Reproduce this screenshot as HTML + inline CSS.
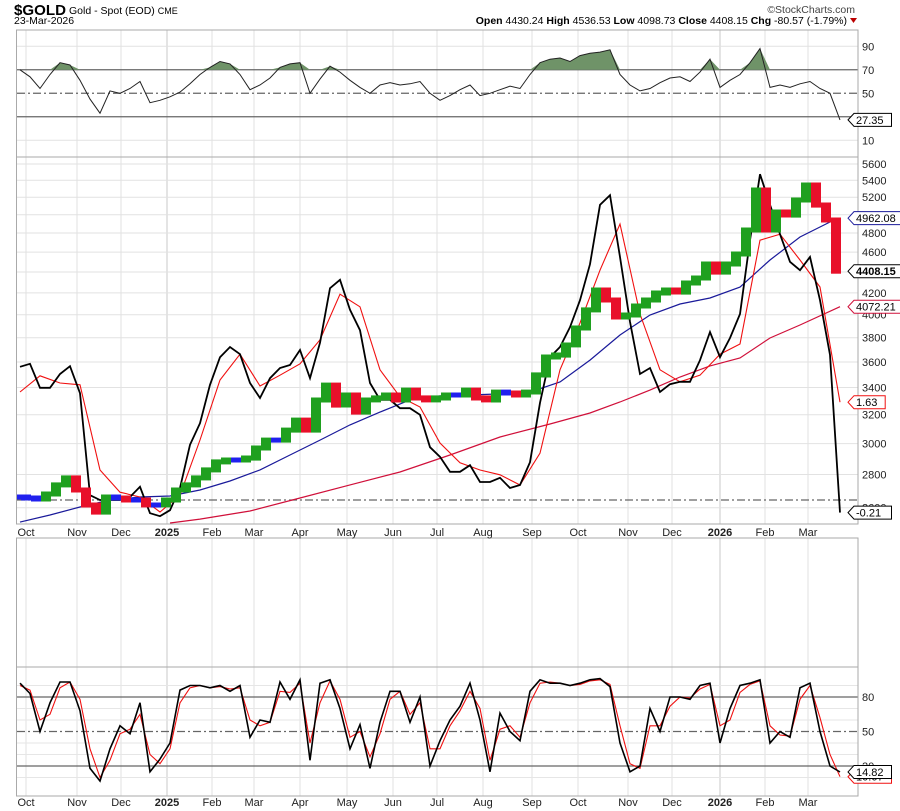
<!DOCTYPE html>
<html><head><meta charset="utf-8">
<style>
html,body{margin:0;padding:0;background:#fff;}
svg{display:block;font-family:"Liberation Sans",sans-serif;}
.ax{font-size:11px;fill:#222;}
</style></head>
<body>
<svg id="chart" width="900" height="811" viewBox="0 0 900 811" xmlns="http://www.w3.org/2000/svg">
  <defs>
    <clipPath id="cTop"><rect x="17" y="30" width="841" height="127"/></clipPath>
    <clipPath id="cMain"><rect x="17" y="157" width="841" height="367"/></clipPath>
    <clipPath id="cBot"><rect x="17" y="667" width="841" height="129"/></clipPath>
  </defs>
  <rect x="0" y="0" width="900" height="811" fill="#fff"/>
  <g>
    <text x="14" y="15" font-size="15" font-weight="bold" fill="#000" textLength="52" lengthAdjust="spacingAndGlyphs">$GOLD</text>
    <text x="69" y="14" font-size="10.5" fill="#000">Gold - Spot (EOD) <tspan font-size="9">CME</tspan></text>
    <text x="14" y="24" font-size="10.5" fill="#000">23-Mar-2026</text>
    <text x="855" y="13" font-size="10.5" fill="#444" text-anchor="end">©StockCharts.com</text>
    <text x="847" y="24" font-size="10.5" fill="#000" text-anchor="end"><tspan font-weight="bold">Open</tspan> 4430.24 <tspan font-weight="bold">High</tspan> 4536.53 <tspan font-weight="bold">Low</tspan> 4098.73 <tspan font-weight="bold">Close</tspan> 4408.15 <tspan font-weight="bold">Chg</tspan> -80.57 (-1.79%)</text>
    <path d="M850 18 L857 18 L853.5 23 Z" fill="#b00"/>
  </g>
  <g id="grid"></g>
  <g id="top" clip-path="url(#cTop)"></g>
  <g id="main" clip-path="url(#cMain)"></g>
  <g id="bot" clip-path="url(#cBot)"></g>
  <g id="frames"></g>
  <g id="axes"></g>
</svg>
<script>
const tickLabels = ["Oct","Nov","Dec","2025","Feb","Mar","Apr","May","Jun","Jul","Aug","Sep","Oct","Nov","Dec","2026","Feb","Mar"];
const tickIdx = [0.6,5.7,10.1,14.7,19.2,23.4,28,32.7,37.3,41.7,46.3,51.2,55.8,60.8,65.2,70,74.5,78.8];
const closes = [2663,2657,2651,2681,2736,2779,2705,2616,2575,2663,2657,2645,2645,2616,2616,2645,2705,2736,2779,2829,2880,2892,2892,2905,2971,3024,3024,3092,3162,3092,3307,3419,3270,3344,3219,3307,3322,3344,3307,3381,3322,3307,3322,3344,3344,3381,3322,3307,3366,3359,3344,3366,3497,3640,3656,3739,3883,4043,4227,4134,3980,3998,4079,4134,4199,4227,4208,4294,4342,4480,4400,4480,4581,4833,5284,4833,5031,4997,5168,5344,5110,4942,4408.15];
const ma50Idx = [0,3,6,9,12,15,18,21,24,27,30,33,36,39,42,45,48,51,54,57,60,63,66,69,72,75,78,81,82];
const ma50Val = [2518,2558,2604,2645,2663,2669,2705,2760,2829,2925,3024,3128,3219,3307,3337,3344,3352,3366,3442,3615,3823,3998,4097,4152,4255,4520,4758,4920,4962.08];
const ma200Idx = [15,18,23,28,33,38,43,48,53,57,60,63,66,69,72,75,78,82];
const ma200Val = [2513,2535,2581,2657,2736,2816,2925,3045,3134,3212,3292,3381,3481,3568,3632,3798,3909,4072.21];
const oscLine = [2.22,2.27,1.87,1.87,2.10,2.23,1.78,0.08,0,0,0,0.05,0.22,-0.22,-0.27,-0.17,0.2,0.92,1.28,1.92,2.38,2.55,2.43,1.95,1.7,2.03,2.2,2.25,2.5,2.03,2.62,3.53,3.67,3.17,2.83,1.95,1.67,1.67,1.53,1.53,1.42,0.88,0.72,0.47,0.47,0.58,0.3,0.3,0.37,0.2,0.25,0.63,1.62,2.38,2.55,2.88,3.33,3.93,4.92,5.08,4.05,2.97,2.1,2.2,1.8,1.93,1.97,1.97,2.33,2.8,2.38,2.7,3.1,4.33,5.43,4.92,4.43,3.97,3.83,4.05,3.33,2.42,-0.21];
const oscSignal = [1.8,2.07,1.95,1.92,0.5,0.13,0.05,-0.2,0.08,1.0,2.0,2.43,1.9,2.08,2.27,2.67,3.43,3.22,2.17,1.72,1.55,0.95,0.62,0.5,0.42,0.25,0.78,2.17,2.95,3.83,4.6,3.1,2.17,1.97,2.08,2.43,2.6,4.33,4.43,4.0,3.55,1.63];
const rsi = [70,64,54,66,76,74,61,45,33,52,50,54,60,42,44,47,51,58,66,72,77,75,66,53,57,63,72,75,76,50,62,73,68,61,55,50,57,59,57,58,60,50,44,48,53,57,48,50,53,56,54,66,76,79,80,77,82,84,85,87,66,57,52,54,59,63,64,60,68,79,55,61,66,76,88,55,57,55,58,60,54,50,27.35];
const stochK = [92,83,50,75,93,93,68,18,7,35,55,48,75,15,26,40,86,90,90,88,90,85,90,45,60,58,93,78,95,25,92,95,70,35,56,18,58,85,85,58,80,20,42,60,72,92,60,15,66,50,42,85,95,92,92,90,92,95,96,89,40,15,20,70,50,80,80,78,90,92,40,70,90,92,95,40,50,45,88,92,50,20,14.82];
const stochD = [90,86,60,65,88,93,78,35,10,25,48,52,65,30,22,35,75,88,90,88,89,87,88,60,55,58,85,84,92,40,75,94,78,45,50,28,48,78,85,65,75,35,35,55,68,85,70,25,52,55,45,75,92,93,92,90,91,94,95,91,55,22,18,55,55,72,80,79,87,91,55,60,84,91,94,55,47,46,78,90,62,30,10.67];
const priceTicks = [5600,5400,5200,4800,4600,4200,4000,3800,3600,3400,3200,3000,2800,2600];
const priceGrid = [5600,5400,5200,5000,4800,4600,4400,4200,4000,3800,3600,3400,3200,3000,2800,2600];
const rsiTicks = [90,70,50,10];
const stochTicks = [80,50,20];

const NS = "http://www.w3.org/2000/svg";
const XL = 17, XR = 858, X0 = 20, X1 = 840;
const N = closes.length;
function xAt(i){ return X0 + i*(X1-X0)/(N-1); }
function yP(p){ return 164 + 448*Math.log(5600/p); }
function yO(v){ return 500 - 60*v; }
function yR(v){ return 152 - 1.175*v; }
function yS(v){ return 789 - 1.15*v; }
function mk(tag, attrs, parent){
  const e = document.createElementNS(NS, tag);
  for (const k in attrs) e.setAttribute(k, attrs[k]);
  parent.appendChild(e); return e;
}
const G = document.getElementById('grid'), T = document.getElementById('top'),
      M = document.getElementById('main'), B = document.getElementById('bot'),
      F = document.getElementById('frames'), A = document.getElementById('axes');

const panels = [[30,157],[157,524],[538,667],[667,796]];
tickIdx.forEach((ti, k) => {
  const x = xAt(ti);
  const yr = tickLabels[k].length === 4;
  panels.forEach(p => {
    const l = mk('line', {x1:x, x2:x, y1:p[0], y2:p[1], stroke: yr ? '#c8c8c8' : '#e0e0e0', 'stroke-width':1}, G);
    
    
  });
});
priceGrid.forEach(p => {
  const l = mk('line', {x1:XL, x2:XR, y1:yP(p), y2:yP(p), stroke:'#e2e2e2'}, G);
  
  
});
[10,90].forEach(v => {
  const l = mk('line', {x1:XL, x2:XR, y1:yR(v), y2:yR(v), stroke:'#e2e2e2'}, G);
  
  
});
[10,30,40,60,70,90].forEach(v => {
  const l = mk('line', {x1:XL, x2:XR, y1:yS(v), y2:yS(v), stroke:'#e6e6e6'}, G);
  
  
});
[[yR(70),'none'],[yR(30),'none'],[yR(50),'8,3,2,3'],[yO(0),'8,3,2,3'],[yS(80),'none'],[yS(20),'none'],[yS(50),'8,3,2,3']].forEach(r => {
  const l = mk('line', {x1:XL, x2:XR, y1:r[0], y2:r[0], stroke:'#666', 'stroke-width':1.2, 'stroke-dasharray':r[1]}, G);
  
  
});

function pathFrom(vals, xf, yf){ return vals.map((v,i)=> (i?'L':'M') + xf(i).toFixed(1) + ' ' + yf(v).toFixed(1)).join(' '); }
const y70 = yR(70);
const fillP = 'M' + xAt(0) + ' ' + y70 + ' ' + rsi.map((v,i)=>'L'+xAt(i).toFixed(1)+' '+Math.min(yR(v), y70).toFixed(1)).join(' ') + ' L' + xAt(N-1) + ' ' + y70 + ' Z';
const rf = mk('path', {d:fillP, fill:'#6f9368', stroke:'none'}, T);


const rl = mk('path', {d:pathFrom(rsi, xAt, yR), fill:'none', stroke:'#222', 'stroke-width':1}, T);



const ma200 = mk('path', {d:ma200Val.map((v,k)=>(k?'L':'M')+xAt(ma200Idx[k]).toFixed(1)+' '+yP(v).toFixed(1)).join(' '), fill:'none', stroke:'#d0103a', 'stroke-width':1.2}, M);


const ma50 = mk('path', {d:ma50Val.map((v,k)=>(k?'L':'M')+xAt(ma50Idx[k]).toFixed(1)+' '+yP(v).toFixed(1)).join(' '), fill:'none', stroke:'#1a1a9a', 'stroke-width':1.2}, M);


const sig = mk('path', {d:pathFrom(oscSignal, i=>xAt(2*i), yO), fill:'none', stroke:'#f01010', 'stroke-width':1.1}, M);


const osc = mk('path', {d:pathFrom(oscLine, xAt, yO), fill:'none', stroke:'#000', 'stroke-width':1.8}, M);


for (let i = 0; i < N; i++) {
  const prev = i ? closes[i-1] : closes[0];
  const c = closes[i];
  const ch = (c - prev) / prev;
  const col = Math.abs(ch) < 0.003 ? '#2020ee' : (ch > 0 ? '#1fa01f' : '#e8102a');
  const top = Math.min(yP(prev), yP(c)) - 2.5, bot = Math.max(yP(prev), yP(c)) + 2.5;
  const xa = i ? xAt(i-1) + 1 : xAt(0) - 3;
  const r = mk('rect', {x:xa.toFixed(1), y:top.toFixed(1), width:(xAt(i)-xa+1).toFixed(1), height:(bot-top).toFixed(1), fill:col}, M);
  
  
}

const sd = mk('path', {d:pathFrom(stochD, xAt, yS), fill:'none', stroke:'#f01010', 'stroke-width':1.1}, B);


const sk = mk('path', {d:pathFrom(stochK, xAt, yS), fill:'none', stroke:'#000', 'stroke-width':1.6}, B);



panels.forEach(p => {
  const r = mk('rect', {x:XL-0.5, y:p[0], width:XR-XL+0.5, height:p[1]-p[0], fill:'none', stroke:'#aaa', 'stroke-width':1}, F);
  
  
});

function txt(x, y, s, extra){
  const t = mk('text', Object.assign({x:x, y:y, class:'ax'}, extra||{}), A);
  t.textContent = s; return t;
}
priceTicks.forEach(p => {
  const t = txt(862, yP(p)+4, String(p));
  
  
});
rsiTicks.forEach(v => {
  const t = txt(862, yR(v)+4, String(v));
  
  
});
stochTicks.forEach(v => {
  const t = txt(862, yS(v)+4, String(v));
  
  
});
[536, 806].forEach(yy => {
  tickIdx.forEach((ti, k) => {
    const yr = tickLabels[k].length === 4;
    const t = txt(xAt(ti), yy, tickLabels[k], {'text-anchor':'middle', 'font-weight': yr ? 'bold' : 'normal'});
    
    
  });
});
function tag(y, s, col, bold){
  const g = mk('g', {}, A);
  
  
  const w = s.length*6.3 + 6;
  mk('path', {d:`M848 ${y} L854 ${y-6.5} L${854+w} ${y-6.5} L${854+w} ${y+6.5} L854 ${y+6.5} Z`, fill:'#fff', stroke:col, 'stroke-width':1}, g);
  const t = mk('text', {x:856, y:y+4, 'font-size':11, fill:'#000', 'font-weight': bold ? 'bold' : 'normal'}, g);
  t.textContent = s;
}
tag(yR(rsi[N-1]), rsi[N-1].toFixed(2), '#000');
tag(yP(ma50Val[ma50Val.length-1]), ma50Val[ma50Val.length-1].toFixed(2), '#1a1a9a');
tag(yP(closes[N-1]), closes[N-1].toFixed(2), '#000', true);
tag(yP(ma200Val[ma200Val.length-1]), ma200Val[ma200Val.length-1].toFixed(2), '#d0103a');
tag(yO(oscSignal[oscSignal.length-1]), oscSignal[oscSignal.length-1].toFixed(2), '#f01010');
tag(yO(oscLine[N-1]), oscLine[N-1].toFixed(2), '#000');
tag(yS(stochD[N-1]), stochD[N-1].toFixed(2), '#f01010');
tag(yS(stochK[N-1]), stochK[N-1].toFixed(2), '#000');
</script>
</body></html>
